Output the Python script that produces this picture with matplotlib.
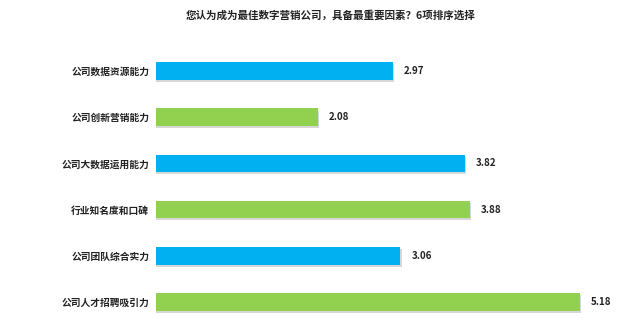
import matplotlib
matplotlib.use("Agg")
import matplotlib.pyplot as plt
import matplotlib.patheffects as pe

plt.rcParams['font.family'] = ['Noto Sans CJK SC', 'DejaVu Sans']

title = "您认为成为最佳数字营销公司，具备最重要因素？6项排序选择"
categories = ["公司数据资源能力", "公司创新营销能力", "公司大数据运用能力",
              "行业知名度和口碑", "公司团队综合实力", "公司人才招聘吸引力"]
scores = [2.97, 2.08, 3.82, 3.88, 3.06, 5.18]
bar_colors = ["#00B0F0", "#92D050", "#00B0F0", "#92D050", "#00B0F0", "#92D050"]

fig = plt.figure(figsize=(6.4, 3.33), dpi=100)
fig.patch.set_facecolor("white")
ax = fig.add_axes([0.244, 0.024, 0.725, 0.832])

ypos = list(range(len(categories)))
bars = ax.barh(ypos, scores, height=0.38, color=bar_colors, zorder=2)
for b in bars:
    b.set_path_effects([pe.SimplePatchShadow(offset=(1, -1.5), shadow_rgbFace="#b0b0b0", alpha=0.5),
                        pe.Normal()])

for y, v in zip(ypos, scores):
    ax.annotate(f"{v:.2f}", xy=(v, y), xytext=(8, 0), textcoords="offset points",
                ha="left", va="center", fontsize=7, fontweight="bold", color="#222222")

ax.set_xlim(0.17, 5.66)
ax.set_ylim(5.5, -0.5)
ax.set_yticks(ypos)
ax.set_yticklabels(categories, fontsize=7, fontweight="bold", color="#222222")
ax.tick_params(axis="y", length=0, pad=5)
ax.set_xticks([])
for s in ax.spines.values():
    s.set_visible(False)

fig.text(0.517, 0.953, title, ha="center", va="center", fontsize=7.6,
         fontweight="bold", color="#222222")

fig.savefig("out.png", dpi=100, facecolor="white")
